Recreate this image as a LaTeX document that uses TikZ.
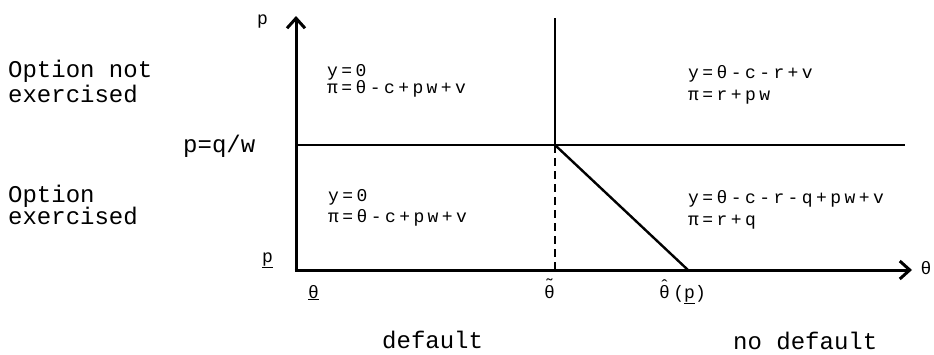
\documentclass[tikz,border=0pt]{standalone}
\usepackage{fontspec}
\usetikzlibrary{arrows.meta}
\newfontfamily\tw{Liberation Mono}
\newfontfamily\fm{Liberation Mono}[LetterSpace=19]
\begin{document}
\begin{tikzpicture}[x=1pt,y=-1pt,
  big/.style={font=\tw\fontsize{24}{25}\selectfont,inner sep=0pt,anchor=base west},
  frm/.style={font=\fm\fontsize{18}{20}\selectfont,inner sep=0pt,anchor=base west},
  sym/.style={font=\tw\fontsize{18}{20}\selectfont,inner sep=0pt,anchor=base west},
  axis/.style={line width=3pt,-{Straight Barb[length=10pt,width=18pt,line width=3pt]}},
  thinline/.style={line width=1.6pt},
  boldline/.style={line width=2.8pt},
  diag/.style={line width=2.4pt},
  dashline/.style={line width=2.8pt,dash pattern=on 8pt off 5pt}]
\useasboundingbox (0,0) rectangle (934,354);
% coordinates
\coordinate (O) at (296,270);
\coordinate (Ytop) at (296,16);
\coordinate (Xend) at (912,270);
\coordinate (K) at (555,145);
\coordinate (Vtop) at (555,18);
\coordinate (Hl) at (296,145);
\coordinate (Hr) at (905,145);
\coordinate (Kb) at (555,270);
\coordinate (D) at (688,270);
% lines
\draw[thinline] (Hl) -- (Hr);
\draw[boldline] (Vtop) -- (K);
\draw[dashline] (K) -- (Kb);
\draw[diag] (K) -- (D);
\draw[axis] ([yshift=1.5pt]O) -- (Ytop);
\draw[axis] ([xshift=-1.5pt]O) -- (Xend);
% axis labels
\node[sym] (lp) at (257,24) {p};
\node[sym,anchor=center] (lth) at (926,268) {θ};
\node[big] (lqw) at (183,152) {p=q/w};
\node[sym] (lpl) at (262,262) {\underline{p}};
\node[sym] (lthl) at (308,298) {\underline{θ}};
\node[sym] (ltt) at (544,298) {\rlap{\raisebox{7pt}{˜}}θ};
\node[frm] (lth2) at (659,298) {{\tw\rlap{\raisebox{6pt}{ˆ}}}θ(\underline{p})};
% side labels
\node[big] (on1) at (8,77) {Option not};
\node[big] (on2) at (8,102) {exercised};
\node[big] (oe1) at (8,202) {Option};
\node[big] (oe2) at (8,224) {exercised};
% region texts
\node[frm] (ul1) at (327,76) {y=0};
\node[frm] (ul2) at (327,93) {π=θ-c+pw+v};
\node[frm] (ur1) at (688,78) {y=θ-c-r+v};
\node[frm] (ur2) at (688,100) {π=r+pw};
\node[frm] (ll1) at (328,201) {y=0};
\node[frm] (ll2) at (328,222) {π=θ-c+pw+v};
\node[frm] (lr1) at (688,203) {y=θ-c-r-q+pw+v};
\node[frm] (lr2) at (688,225) {π=r+q};
% bottom labels
\node[big] (bd) at (382,348) {default};
\node[big] (bnd) at (733,349) {no default};
\end{tikzpicture}
\end{document}
